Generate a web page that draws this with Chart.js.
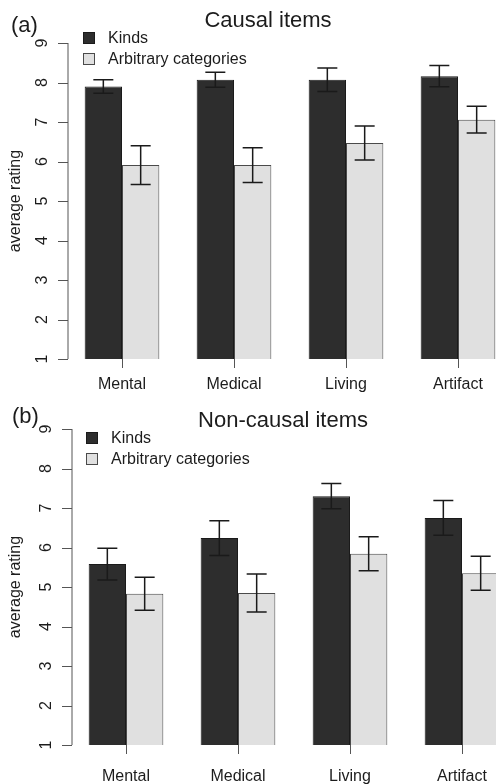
<!DOCTYPE html>
<html>
<head>
<meta charset="utf-8">
<script src="https://cdn.jsdelivr.net/npm/chart.js@4.4.1/dist/chart.umd.min.js"></script>
<style>
  html, body { margin: 0; padding: 0; background: #fff; width: 496px; height: 784px; overflow: hidden; }
  .panel { position: absolute; left: 0; }
</style>
</head>
<body>
<canvas id="chartA" class="panel" style="top:0" width="530" height="392"></canvas>
<canvas id="chartB" class="panel" style="top:392px" width="530" height="392"></canvas>
<script>
// categories and tick labels
const categories = ["Mental", "Medical", "Living", "Artifact"];
const yTicks = [1, 2, 3, 4, 5, 6, 7, 8, 9];
const seriesNames = ["Kinds", "Arbitrary categories"];

// (a) causal items
const causalKinds = [7.9, 8.07, 8.07, 8.16];
const causalKindsErr = [0.17, 0.19, 0.3, 0.27];
const causalArbitrary = [5.91, 5.91, 6.47, 7.06];
const causalArbitraryErr = [0.49, 0.44, 0.43, 0.34];

// (b) non-causal items
const nonCausalKinds = [5.58, 6.24, 7.3, 6.75];
const nonCausalKindsErr = [0.4, 0.44, 0.32, 0.44];
const nonCausalArbitrary = [4.83, 4.85, 5.84, 5.35];
const nonCausalArbitraryErr = [0.42, 0.48, 0.43, 0.43];

const FONT = "'Liberation Sans', Arial, Helvetica, sans-serif";
const INK = "#1c1c1c";
const AXIS = "#555";

// draws R style y axis, error bars, title and legend on top of the chart
const panelDecor = {
  id: "panelDecor",
  afterDatasetsDraw(chart, args, opts) {
    const ctx = chart.ctx;
    const y = chart.scales.y;
    const area = chart.chartArea;
    const ax = area.left + 2;

    ctx.save();
    // y axis
    ctx.strokeStyle = AXIS;
    ctx.lineWidth = 1;
    ctx.beginPath();
    ctx.moveTo(ax, y.getPixelForValue(yTicks[0]));
    ctx.lineTo(ax, y.getPixelForValue(yTicks[yTicks.length - 1]));
    yTicks.forEach(v => {
      const py = Math.round(y.getPixelForValue(v)) + 0.5;
      ctx.moveTo(ax, py);
      ctx.lineTo(ax - 10, py);
    });
    ctx.stroke();

    ctx.fillStyle = INK;
    ctx.font = "16px " + FONT;
    ctx.textAlign = "center";
    ctx.textBaseline = "middle";
    yTicks.forEach(v => {
      ctx.save();
      ctx.translate(ax - 25, y.getPixelForValue(v));
      ctx.rotate(-Math.PI / 2);
      ctx.fillText(String(v), 0, 0);
      ctx.restore();
    });

    // error bars
    ctx.strokeStyle = "#1a1a1a";
    ctx.lineWidth = 1.5;
    chart.data.datasets.forEach((ds, i) => {
      const meta = chart.getDatasetMeta(i);
      meta.data.forEach((bar, j) => {
        const top = y.getPixelForValue(ds.data[j] + ds.err[j]);
        const bot = y.getPixelForValue(ds.data[j] - ds.err[j]);
        ctx.beginPath();
        ctx.moveTo(bar.x, top);
        ctx.lineTo(bar.x, bot);
        ctx.moveTo(bar.x - 10, top);
        ctx.lineTo(bar.x + 10, top);
        ctx.moveTo(bar.x - 10, bot);
        ctx.lineTo(bar.x + 10, bot);
        ctx.stroke();
      });
    });

    // panel letter and title
    ctx.fillStyle = INK;
    ctx.textBaseline = "alphabetic";
    ctx.font = "22px " + FONT;
    ctx.textAlign = "left";
    ctx.fillText(opts.letter, opts.letterX, opts.letterY);
    ctx.textAlign = "center";
    ctx.fillText(opts.title, opts.titleX, opts.titleY);

    // legend
    ctx.font = "16px " + FONT;
    ctx.textAlign = "left";
    ctx.textBaseline = "middle";
    chart.data.datasets.forEach((ds, i) => {
      const cy = opts.legendY + i * 21;
      ctx.fillStyle = ds.backgroundColor;
      ctx.fillRect(opts.legendX, cy - 6, 12, 12);
      ctx.strokeStyle = ds.borderColor;
      ctx.lineWidth = 1;
      ctx.strokeRect(opts.legendX + 0.5, cy - 5.5, 11, 11);
      ctx.fillStyle = INK;
      ctx.fillText(ds.label, opts.legendX + 25, cy + 1);
    });
    ctx.restore();
  }
};

function makePanel(id, kinds, kindsErr, arbitrary, arbitraryErr, p) {
  return new Chart(document.getElementById(id), {
    type: "bar",
    data: {
      labels: categories,
      datasets: [
        {
          label: seriesNames[0],
          data: kinds,
          err: kindsErr,
          backgroundColor: "#2d2d2d",
          borderColor: "#1a1a1a",
          borderWidth: 1,
          borderSkipped: false
        },
        {
          label: seriesNames[1],
          data: arbitrary,
          err: arbitraryErr,
          backgroundColor: "#e0e0e0",
          borderColor: "#4a4a4a",
          borderWidth: 1,
          borderSkipped: false
        }
      ]
    },
    options: {
      responsive: false,
      animation: false,
      layout: { padding: { top: p.top, right: p.right, left: 0, bottom: 0 } },
      datasets: { bar: { categoryPercentage: 2 / 3, barPercentage: 1 } },
      plugins: {
        legend: { display: false },
        tooltip: { enabled: false },
        panelDecor: p.decor
      },
      scales: {
        x: {
          offset: true,
          border: { display: false },
          grid: { offset: false, drawOnChartArea: false, drawTicks: true, tickLength: 9, color: AXIS },
          ticks: { color: INK, font: { size: 16, family: FONT }, padding: p.labelPad, maxRotation: 0 },
          afterFit: s => { s.height = p.xHeight; }
        },
        y: {
          min: 1,
          max: 9,
          border: { display: false },
          grid: { display: false },
          ticks: { display: false },
          title: { display: true, text: "average rating", color: INK, font: { size: 16, family: FONT }, padding: { top: 6, bottom: 0 } },
          afterFit: s => { s.width = p.left; }
        }
      }
    },
    plugins: [panelDecor]
  });
}

makePanel("chartA", causalKinds, causalKindsErr, causalArbitrary, causalArbitraryErr, {
  top: 43, right: 16, left: 66, xHeight: 33, labelPad: 7,
  decor: { letter: "(a)", letterX: 11, letterY: 32, title: "Causal items", titleX: 268, titleY: 27, legendX: 83, legendY: 38 }
});

makePanel("chartB", nonCausalKinds, nonCausalKindsErr, nonCausalArbitrary, nonCausalArbitraryErr, {
  top: 37, right: 12, left: 70, xHeight: 39, labelPad: 13,
  decor: { letter: "(b)", letterX: 12, letterY: 31, title: "Non-causal items", titleX: 283, titleY: 35, legendX: 86, legendY: 46 }
});
</script>
</body>
</html>
